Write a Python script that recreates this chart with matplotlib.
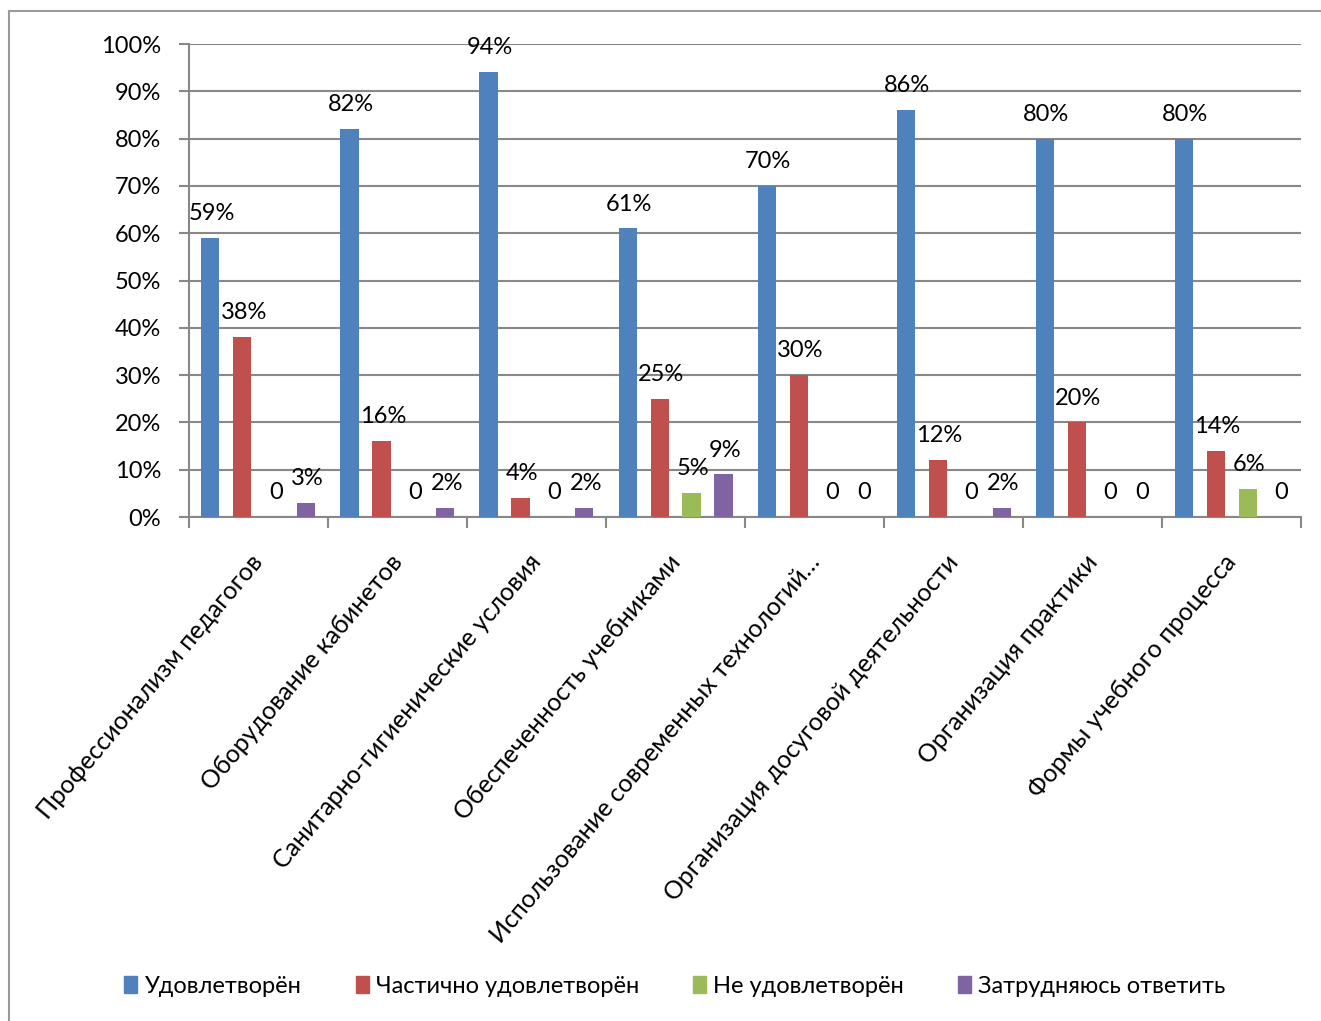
import matplotlib
matplotlib.use("Agg")
import matplotlib.pyplot as plt
import numpy as np
from matplotlib.patches import Patch
from matplotlib.lines import Line2D

plt.rcParams['font.family'] = ['Lato', 'DejaVu Sans']

categories = [
    "Профессионализм педагогов",
    "Оборудование кабинетов",
    "Санитарно-гигиенические условия",
    "Обеспеченность учебниками",
    "Использование современных технологий…",
    "Организация досуговой деятельности",
    "Организация практики",
    "Формы учебного процесса",
]
series_names = ["Удовлетворён", "Частично удовлетворён", "Не удовлетворён", "Затрудняюсь ответить"]
satisfied = [59, 82, 94, 61, 70, 86, 80, 80]
partly = [38, 16, 4, 25, 30, 12, 20, 14]
not_satisfied = [0, 0, 0, 5, 0, 0, 0, 6]
unsure = [3, 2, 2, 9, 0, 2, 0, 0]
colors = ["#4F81BD", "#C0504D", "#9BBB59", "#8064A2"]

GRID = "#888888"
FS = 17

fig = plt.figure(figsize=(13.21, 10.21), dpi=100)
ax = fig.add_axes([0.143, 0.4936, 0.842, 0.4633])

# outer chart frame (left and top edges are visible in the original)
fig.add_artist(Line2D([0.0068, 0.0068], [0.0, 0.9895], color="#9a9a9a", lw=1.5,
                      transform=fig.transFigure))
fig.add_artist(Line2D([0.0068, 1.0], [0.9895, 0.9895], color="#9a9a9a", lw=1.5,
                      transform=fig.transFigure))

x = np.arange(len(categories))
width = 0.13
step = 0.23
for i, vals in enumerate([satisfied, partly, not_satisfied, unsure]):
    pos = x + (i - 1.5) * step
    ax.bar(pos, vals, width=width, color=colors[i], zorder=3)
    for px, v in zip(pos, vals):
        lab = f"{v}%" if v else "0"
        ax.annotate(lab, (px + 0.01, v), xytext=(0, 10), textcoords="offset points",
                    ha="center", va="bottom", fontsize=FS, zorder=4)

ax.set_xlim(-0.5, len(categories) - 0.5)
ax.set_ylim(0, 100)
ax.set_yticks(range(0, 101, 10))
ax.set_yticklabels([f"{t}%" for t in range(0, 101, 10)], fontsize=FS)
ax.yaxis.grid(True, color=GRID, linewidth=1.5, zorder=0)
ax.set_axisbelow(True)

ax.set_xticks(np.arange(len(categories) + 1) - 0.5)
ax.set_xticklabels([])
ax.set_xticks(x - 0.06, minor=True)
ax.set_xticklabels(categories, minor=True, rotation=50, ha="right",
                   rotation_mode="anchor", fontsize=18)
ax.tick_params(axis="x", which="minor", length=0, pad=24)
ax.tick_params(axis="x", which="major", length=8, width=1.5, color=GRID)
ax.tick_params(axis="y", length=7, width=1.5, color=GRID, pad=13)

for s in ["top", "right"]:
    ax.spines[s].set_visible(False)
for s in ["left", "bottom"]:
    ax.spines[s].set_color(GRID)
    ax.spines[s].set_linewidth(1.5)

handles = [Patch(color=c, label=n) for c, n in zip(colors, series_names)]
fig.legend(handles=handles, loc="center", bbox_to_anchor=(0.511, 0.034), ncol=4,
           frameon=False, fontsize=FS, handlelength=0.55, handleheight=0.78,
           handletextpad=0.3, columnspacing=2.3)

fig.savefig("out.png", dpi=100)
